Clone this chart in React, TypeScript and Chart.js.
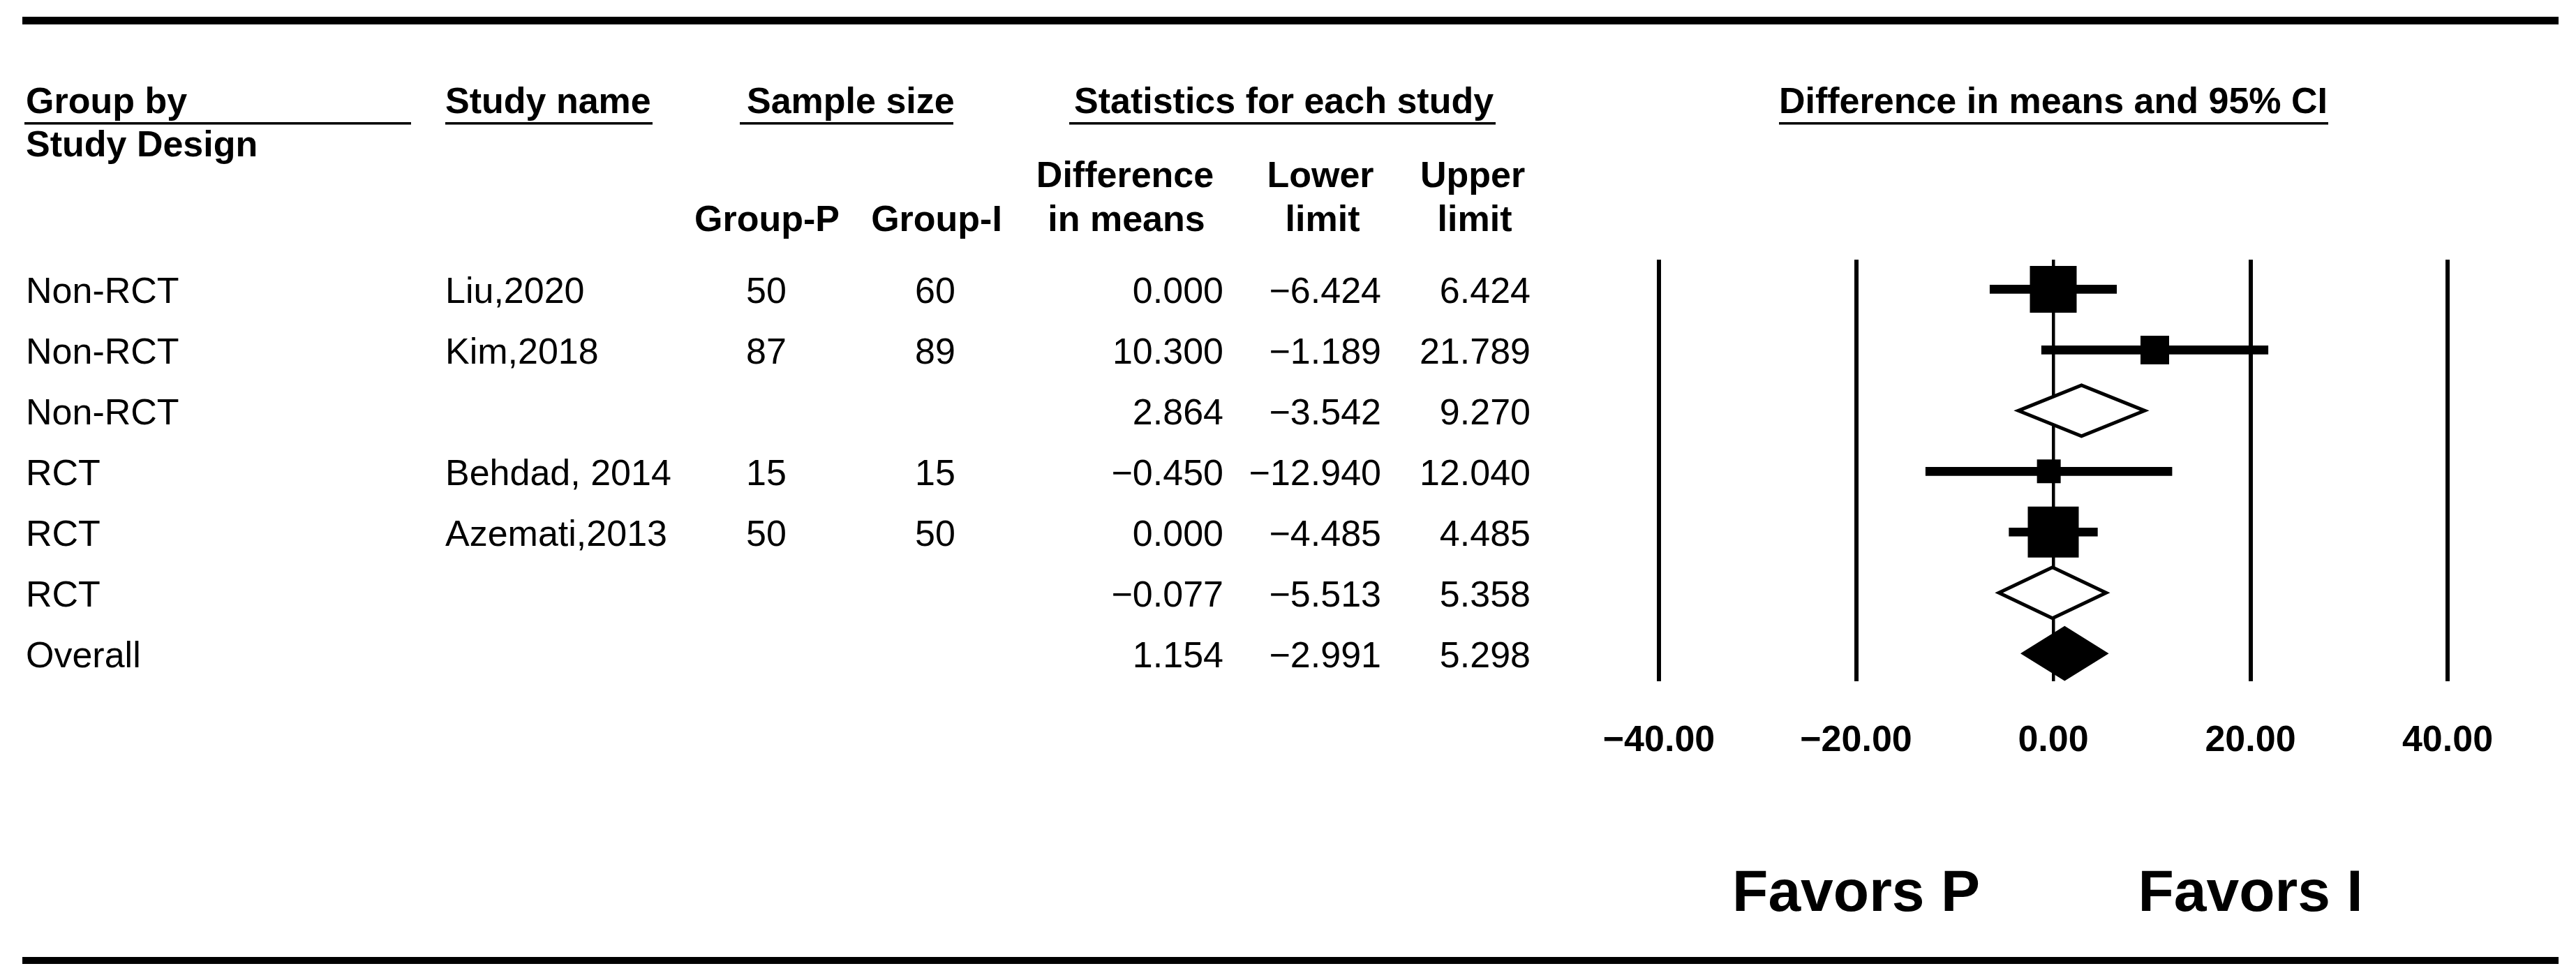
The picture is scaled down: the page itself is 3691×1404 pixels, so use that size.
import React, { useEffect, useRef } from 'react';
import { Chart, registerables } from 'chart.js';

Chart.register(...registerables);

// ---------------- data ----------------
const groups = ['Non-RCT', 'Non-RCT', 'Non-RCT', 'RCT', 'RCT', 'RCT', 'Overall'];
const studyNames = ['Liu,2020', 'Kim,2018', '', 'Behdad, 2014', 'Azemati,2013', '', ''];
const groupP: (number | null)[] = [50, 87, null, 15, 50, null, null];
const groupI: (number | null)[] = [60, 89, null, 15, 50, null, null];
const diffMeans = [0.0, 10.3, 2.864, -0.45, 0.0, -0.077, 1.154];
const lowerLimit = [-6.424, -1.189, -3.542, -12.94, -4.485, -5.513, -2.991];
const upperLimit = [6.424, 21.789, 9.27, 12.04, 4.485, 5.358, 5.298];
const rowKind = ['study', 'study', 'subtotal', 'study', 'study', 'subtotal', 'overall'];
const xTickValues = [-40, -20, 0, 20, 40];
const favorLabels = ['Favors P', 'Favors I'];
const favorAt = [-20, 20];

// ---------------- styles / layout ----------------
const W = 3691;
const H = 1404;
const FONT = '"Liberation Sans", Arial, Helvetica, sans-serif';
const FS = 52;
const squareSide: Record<number, number> = { 0: 67, 1: 41, 3: 34, 4: 73 };
const DIAMOND_HALF_H = 36.5;

const fmt = (v: number, d: number) => (v < 0 ? '\u2212' : '') + Math.abs(v).toFixed(d);

const studyIdx = rowKind.map((k, i) => (k === 'study' ? i : -1)).filter((i) => i >= 0);
const poolIdx = rowKind.map((k, i) => (k !== 'study' ? i : -1)).filter((i) => i >= 0);

export default function App() {
  const ref = useRef<HTMLCanvasElement>(null);

  useEffect(() => {
    document.body.style.margin = '0';
    document.body.style.background = '#fff';
    const canvas = ref.current!;

    const diamondPlugin = {
      id: 'diamonds',
      afterDatasetsDraw(chart: any) {
        const { ctx, scales } = chart;
        const xs = scales.x;
        const ys = scales.y;
        ctx.save();
        poolIdx.forEach((i) => {
          const xl = xs.getPixelForValue(lowerLimit[i]);
          const xm = xs.getPixelForValue(diffMeans[i]);
          const xr = xs.getPixelForValue(upperLimit[i]);
          const y = ys.getPixelForValue(i);
          ctx.beginPath();
          ctx.moveTo(xl, y);
          ctx.lineTo(xm, y - DIAMOND_HALF_H);
          ctx.lineTo(xr, y);
          ctx.lineTo(xm, y + DIAMOND_HALF_H);
          ctx.closePath();
          ctx.fillStyle = rowKind[i] === 'overall' ? '#000' : '#fff';
          ctx.fill();
          ctx.lineWidth = 5;
          ctx.lineJoin = 'miter';
          ctx.strokeStyle = '#000';
          ctx.stroke();
        });
        ctx.restore();
      },
    };

    const tablePlugin = {
      id: 'table',
      afterDraw(chart: any) {
        const { ctx, scales } = chart;
        const ys = scales.y;
        const xs = scales.x;
        ctx.save();
        ctx.fillStyle = '#000';
        // top & bottom rules
        ctx.fillRect(32, 24, 3634, 11);
        ctx.fillRect(32, 1371, 3634, 10);

        // header line 1
        ctx.font = `bold ${FS}px ${FONT}`;
        ctx.textBaseline = 'alphabetic';
        const h1: [string, number, CanvasTextAlign][] = [
          ['Group by', 37, 'left'],
          ['Study name', 638, 'left'],
          ['Sample size', 1070, 'left'],
          ['Statistics for each study', 1539, 'left'],
          ['Difference in means and 95% CI', xs.getPixelForValue(0), 'center'],
        ];
        h1.forEach(([t, x, a]) => {
          ctx.textAlign = a;
          ctx.fillText(t, x, 162);
        });
        const ul: [number, number][] = [
          [35, 589],
          [638, 935],
          [1060, 1366],
          [1532, 2143],
          [2549, 3336],
        ];
        ul.forEach(([a, b]) => ctx.fillRect(a, 175, b - a, 3.5));

        ctx.textAlign = 'left';
        ctx.fillText('Study Design', 37, 224);

        // header lines 2-3
        ctx.textAlign = 'center';
        ctx.fillText('Difference', 1612, 268);
        ctx.fillText('Lower', 1892, 268);
        ctx.fillText('Upper', 2110, 268);
        ctx.fillText('Group-P', 1099, 331);
        ctx.fillText('Group-I', 1342, 331);
        ctx.fillText('in means', 1614, 331);
        ctx.fillText('limit', 1895, 331);
        ctx.fillText('limit', 2113, 331);

        // body rows
        ctx.font = `${FS}px ${FONT}`;
        groups.forEach((g, i) => {
          const y = ys.getPixelForValue(i) + 20;
          ctx.textAlign = 'left';
          ctx.fillText(g, 37, y);
          if (studyNames[i]) ctx.fillText(studyNames[i], 638, y);
          ctx.textAlign = 'center';
          if (groupP[i] != null) ctx.fillText(String(groupP[i]), 1098, y);
          if (groupI[i] != null) ctx.fillText(String(groupI[i]), 1340, y);
          ctx.textAlign = 'right';
          ctx.fillText(fmt(diffMeans[i], 3), 1753, y);
          ctx.fillText(fmt(lowerLimit[i], 3), 1979, y);
          ctx.fillText(fmt(upperLimit[i], 3), 2193, y);
        });

        // favours labels
        ctx.font = `bold 84px ${FONT}`;
        ctx.textAlign = 'center';
        favorLabels.forEach((t, k) => {
          ctx.fillText(t, xs.getPixelForValue(favorAt[k]), 1305);
        });
        ctx.restore();
      },
    };

    const chart = new Chart(canvas, {
      type: 'scatter',
      data: {
        datasets: [
          {
            type: 'bar',
            indexAxis: 'y',
            data: studyIdx.map((i) => ({ x: [lowerLimit[i], upperLimit[i]], y: i })),
            backgroundColor: '#000',
            borderWidth: 0,
            barThickness: 12,
            grouped: false,
          } as any,
          {
            type: 'scatter',
            data: studyIdx.map((i) => ({ x: diffMeans[i], y: i })),
            pointStyle: 'rect',
            pointRadius: studyIdx.map((i) => squareSide[i] / (2 * Math.SQRT1_2)),
            pointHoverRadius: studyIdx.map((i) => squareSide[i] / (2 * Math.SQRT1_2)),
            backgroundColor: '#000',
            borderWidth: 0,
            pointBorderWidth: 0,
          } as any,
        ],
      },
      options: {
        animation: false,
        responsive: false,
        devicePixelRatio: 1,
        events: [],
        layout: { padding: { left: 2377, right: W - 3507, top: 372, bottom: 257.6 } },
        plugins: { legend: { display: false }, tooltip: { enabled: false }, title: { display: false } },
        scales: {
          x: {
            type: 'linear',
            position: 'bottom',
            min: -40,
            max: 40,
            offset: false,
            beginAtZero: false,
            afterBuildTicks: (s: any) => {
              s.ticks = xTickValues.map((v) => ({ value: v }));
            },
            ticks: {
              padding: 54,
              color: '#000',
              font: { family: FONT, size: FS, weight: 'bold' },
              maxRotation: 0,
              autoSkip: false,
              callback: (v: any) => fmt(Number(v), 2),
            },
            grid: {
              color: '#000',
              lineWidth: (c: any) => (c.tick && c.tick.value === 0 ? 4.5 : 6),
              drawTicks: false,
              offset: false,
            },
            border: { display: false },
          },
          y: {
            type: 'linear',
            display: false,
            reverse: true,
            min: -0.488,
            max: 6.458,
            offset: false,
            beginAtZero: false,
            grid: { display: false, offset: false },
          },
        },
      } as any,
      plugins: [diamondPlugin, tablePlugin],
    });

    return () => chart.destroy();
  }, []);

  return <canvas ref={ref} width={W} height={H} style={{ display: 'block', width: W, height: H }} />;
}
